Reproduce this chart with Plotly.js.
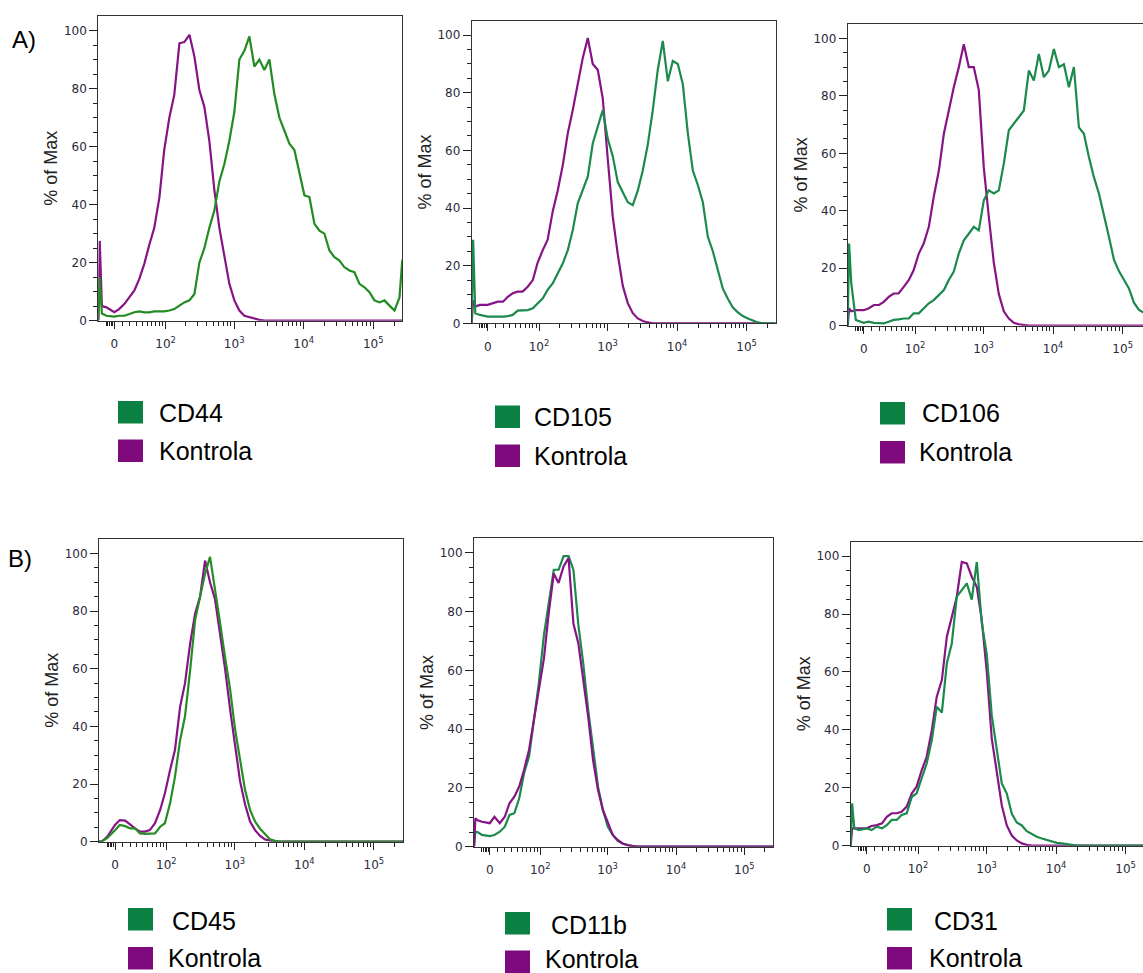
<!DOCTYPE html>
<html>
<head>
<meta charset="utf-8">
<script src="https://cdn.plot.ly/plotly-3.0.1.min.js"></script>
<style>html,body{margin:0;padding:0;background:#fff}#chart{width:1143px;height:973px}</style>
</head>
<body>
<div id="chart"></div>
<script>
// ---------------- DATA ----------------
// fluorescence intensity bins (shared by all histograms)
const BINS = [-21, -19, -16, -10, 0, 6, 13, 20, 27, 35, 44, 54, 66, 80, 95, 114, 135, 161, 190, 226, 267, 315, 372, 439, 519, 612, 723, 853, 1007, 1188, 1402, 1655, 1953, 2306, 2721, 3212, 3791, 4475, 5281, 6233, 7356, 8683, 10248, 12095, 14275, 16850, 19887, 23470, 27700, 32690, 38580, 45530, 53740, 63420, 74860, 88350, 104270, 123070, 145250, 171440, 202360, 238820, 262144];

const MARKERS = ["CD44", "CD105", "CD106", "CD45", "CD11b", "CD31"];
const CONTROL_NAME = "Kontrola";
const PANEL_LETTERS = ["A)", "B)"];
const Y_TITLE = "% of Max";
const X_TICK_VALUES = [0, 100, 1000, 10000, 100000];
const X_TICK_TEXT = ["0", "10<sup>2</sup>", "10<sup>3</sup>", "10<sup>4</sup>", "10<sup>5</sup>"];
const X_MINOR_VALUES = [-10, -8, -6, -4, -2, 10, 20, 30, 40, 50, 60, 70, 80, 90, 200, 300, 400, 500, 600, 700, 800, 900, 2000, 3000, 4000, 5000, 6000, 7000, 8000, 9000, 20000, 30000, 40000, 50000, 60000, 70000, 80000, 90000, 200000];
const Y_TICK_VALUES = [0, 20, 40, 60, 80, 100];
const Y_MINOR_VALUES = [5, 10, 15, 25, 30, 35, 45, 50, 55, 65, 70, 75, 85, 90, 95];

// % of Max, panel A
const CD44_MARKER = [0, 15, 2.5, 1.7, 1.4, 1.7, 1.7, 2.3, 2.9, 3.2, 2.9, 2.9, 3.2, 3.2, 3.2, 3.5, 4, 5.2, 6.3, 7, 9.2, 20, 25, 32, 38, 48, 54, 62, 72, 90, 93, 98, 87.6, 90, 86.4, 90, 78, 70, 65.7, 61, 58.8, 50.7, 43.2, 42.6, 33.4, 31, 30, 24.2, 21.9, 20.7, 18.4, 17.3, 16.7, 12.7, 11.5, 9.8, 7, 6.3, 7, 5.2, 3.5, 8, 21];
const CD44_CONTROL = [0, 27.5, 5, 4.6, 2.9, 4, 5.8, 8, 10.4, 14.4, 19.6, 26, 32, 42.6, 58.8, 70, 77.8, 95.6, 96, 98.5, 91, 79.5, 73.7, 62, 45, 32, 22, 12.7, 7, 3.5, 1.7, 1.2, 0.8, 0.3, 0, 0, 0, 0, 0, 0, 0, 0, 0, 0, 0, 0, 0, 0, 0, 0, 0, 0, 0, 0, 0, 0, 0, 0, 0, 0, 0, 0, 0];

const CD105_MARKER = [0, 29, 3.5, 2.9, 2.3, 2.3, 2.1, 2.3, 2.5, 2.9, 4.4, 4.6, 4.6, 5.2, 6.9, 8.7, 11.6, 13.9, 17.3, 20.8, 25.4, 32.4, 41.6, 46.2, 50.9, 62.4, 68.2, 74, 64, 58, 49, 45.5, 42, 41, 46, 53, 62, 74, 88, 98, 84, 91, 90, 83, 66, 53, 48, 42, 30, 25, 18, 12, 8.5, 5.5, 3.8, 2.5, 1.7, 0.9, 0.3, 0, 0, 0, 0];
const CD105_CONTROL = [0, 8, 5.8, 6.4, 6.4, 6.9, 7.5, 7.5, 9.2, 10.4, 11, 11, 12.7, 15, 21, 25.4, 29, 39, 46, 55, 66, 74, 83, 92, 99, 90, 88, 78, 57, 37, 24, 13, 7, 3.5, 1.7, 0.8, 0.3, 0, 0, 0, 0, 0, 0, 0, 0, 0, 0, 0, 0, 0, 0, 0, 0, 0, 0, 0, 0, 0, 0, 0, 0, 0, 0];

const CD106_MARKER = [0, 28.6, 14.7, 2, 1, 1.4, 1, 0.8, 0.8, 1.4, 2, 2.2, 2.5, 2.5, 4.3, 4.3, 6, 7.8, 8.9, 10.6, 12.4, 15.9, 18.8, 25.1, 29.7, 32, 34.4, 33.2, 43.6, 47.1, 46, 47.1, 56.4, 68, 70.3, 72.6, 74.9, 88.8, 85.3, 94.6, 86.5, 88.8, 96.3, 90, 91, 83, 90, 69, 66.8, 58.7, 51.7, 46, 39, 31, 23, 19, 16, 13, 8, 5.5, 4.5, 3, 2];
const CD106_CONTROL = [0, 6, 5, 5.4, 5.4, 6, 7.2, 7.2, 8.3, 10, 11.2, 11.2, 13.5, 15.9, 19.3, 25.1, 28.6, 34.4, 44.8, 54, 66.8, 74.9, 83, 89.9, 98, 90, 90, 82, 55, 38, 22, 11, 5, 2.5, 1, 0.5, 0.2, 0, 0, 0, 0, 0, 0, 0, 0, 0, 0, 0, 0, 0, 0, 0, 0, 0, 0, 0, 0, 0, 0, 0, 0, 0, 0];

// % of Max, panel B
const CD45_MARKER = [0, 0, 0.3, 1.2, 4, 5.8, 5.4, 4.6, 4.6, 2.9, 2.7, 2.7, 2.9, 5.2, 6.4, 13.3, 22.5, 35.3, 43.4, 59.5, 76.9, 85, 93, 98.8, 88, 76, 64, 53, 39, 28, 18, 11, 7, 4.5, 2.5, 0.8, 0.3, 0, 0, 0, 0, 0, 0, 0, 0, 0, 0, 0, 0, 0, 0, 0, 0, 0, 0, 0, 0, 0, 0, 0, 0, 0, 0];
const CD45_CONTROL = [0, 0, 0.3, 1.7, 5.8, 7.5, 7.3, 5.8, 4.6, 3.5, 3.5, 4, 6.4, 11, 16.8, 24.9, 31.8, 46.8, 54.9, 68.8, 79.2, 85, 97.5, 90, 84, 72, 60, 46, 33, 21, 13, 7, 4, 2, 0.8, 0.3, 0, 0, 0, 0, 0, 0, 0, 0, 0, 0, 0, 0, 0, 0, 0, 0, 0, 0, 0, 0, 0, 0, 0, 0, 0, 0, 0];

const CD11B_MARKER = [0, 5.1, 5, 4, 3.6, 4, 5.1, 6.8, 10.8, 11.4, 16.5, 25, 30.7, 43.2, 55.7, 72, 83.5, 94.3, 94.3, 98.9, 98.9, 94.3, 75.6, 62.5, 46.6, 33, 20.5, 12.5, 6.8, 4, 2, 1.1, 0.6, 0.2, 0, 0, 0, 0, 0, 0, 0, 0, 0, 0, 0, 0, 0, 0, 0, 0, 0, 0, 0, 0, 0, 0, 0, 0, 0, 0, 0, 0, 0];
const CD11B_CONTROL = [0, 9.7, 9, 8.5, 8, 10.2, 8, 10.2, 14.8, 17, 20.5, 26.1, 33, 44, 54.5, 64, 79.5, 93, 89.8, 95.5, 98.3, 76, 69.3, 56.8, 44.3, 29.5, 19.3, 12.5, 8, 4, 2.3, 1.1, 0.5, 0.2, 0, 0, 0, 0, 0, 0, 0, 0, 0, 0, 0, 0, 0, 0, 0, 0, 0, 0, 0, 0, 0, 0, 0, 0, 0, 0, 0, 0, 0];

const CD31_MARKER = [0, 14.6, 6, 5.4, 6, 5.4, 6.6, 6, 7.1, 8.9, 8.9, 10.6, 11.2, 16.9, 18.1, 23.8, 28.4, 36.5, 48, 46, 63, 69.8, 86, 88.3, 90.6, 85, 98, 77, 66, 45, 33, 21.5, 18, 11, 8, 7, 5, 4, 3.1, 2.5, 2, 1.4, 1, 0.8, 0.5, 0.2, 0, 0, 0, 0, 0, 0, 0, 0, 0, 0, 0, 0, 0, 0, 0, 0, 0];
const CD31_CONTROL = [0, 6, 6, 6, 6, 6.8, 7.1, 7.7, 10, 11.2, 11.2, 11.7, 13.5, 18.1, 20.4, 26.1, 30.7, 39.9, 51.4, 57.2, 72.2, 79, 86, 98, 97.5, 92.9, 89.4, 78, 60, 37, 25, 14, 7, 3.5, 1.8, 0.8, 0.3, 0, 0, 0, 0, 0, 0, 0, 0, 0, 0, 0, 0, 0, 0, 0, 0, 0, 0, 0, 0, 0, 0, 0, 0, 0, 0];

const MARKER_SERIES = [CD44_MARKER, CD105_MARKER, CD106_MARKER, CD45_MARKER, CD11B_MARKER, CD31_MARKER];
const CONTROL_SERIES = [CD44_CONTROL, CD105_CONTROL, CD106_CONTROL, CD45_CONTROL, CD11B_CONTROL, CD31_CONTROL];
const X_MIN = -21;
const X_MAX = [262144, 262144, 196000, 262144, 262144, 177700];

// ---------------- STYLE / LAYOUT ----------------
const W = 1143, H = 973;
// biexponential-like display transform (arcsinh)
const C = 37.8;
function T(v) { return Math.asinh(v / C) / Math.LN10; }

const PURPLE = "#861486";
const GREENS = ["#228B22", "#1b8a4c", "#1b8a4c", "#268c26", "#1b8a4c", "#1b8a4c"];
const SQ_GREEN = "#0a8042";
const SQ_PURPLE = "#7e0a7e";

const PANELS = [
  {x0: 98.3, x1: 402.3, y0: 16, y1: 320.7},
  {x0: 471.7, x1: 775.7, y0: 20.7, y1: 323.3},
  {x0: 847.7, x1: 1143, y0: 24, y1: 325.7},
  {x0: 99, x1: 403, y0: 539, y1: 841.7},
  {x0: 474, x1: 773, y0: 538.3, y1: 846.7},
  {x0: 850.7, x1: 1143, y0: 541.7, y1: 845.7}
];
const LEGENDS = [
  {sx: 118, sy1: 401, sy2: 439.5, tx1: 157, tx2: 157, ty1: 413, ty2: 451},
  {sx: 495, sy1: 405.5, sy2: 444.5, tx1: 532, tx2: 532, ty1: 417, ty2: 456},
  {sx: 880, sy1: 402, sy2: 441, tx1: 920, tx2: 917, ty1: 413, ty2: 452},
  {sx: 128, sy1: 908, sy2: 947, tx1: 170, tx2: 166, ty1: 921, ty2: 958},
  {sx: 505, sy1: 912, sy2: 950.5, tx1: 549, tx2: 543, ty1: 925, ty2: 959},
  {sx: 887, sy1: 908, sy2: 947, tx1: 932, tx2: 927, ty1: 921, ty2: 958}
];

const px = x => x / W;
const py = y => 1 - y / H;

const traces = [];
const layout = {
  width: W, height: H,
  margin: {l: 0, r: 0, t: 0, b: 0, pad: 0},
  paper_bgcolor: "#fff", plot_bgcolor: "#fff",
  showlegend: false,
  font: {family: "DejaVu Sans, Verdana, sans-serif", color: "#222"},
  shapes: [], annotations: []
};

const xs = BINS.map(T);
PANELS.forEach((p, i) => {
  const sfx = i === 0 ? "" : String(i + 1);
  const xa = "x" + sfx, ya = "y" + sfx;
  const ctrl = {x: xs, y: CONTROL_SERIES[i], type: "scatter", mode: "lines", name: CONTROL_NAME,
    line: {color: PURPLE, width: 2.2}, xaxis: xa, yaxis: ya, hoverinfo: "skip"};
  const mark = {x: xs, y: MARKER_SERIES[i], type: "scatter", mode: "lines", name: MARKERS[i],
    line: {color: GREENS[i], width: 2.2}, xaxis: xa, yaxis: ya, hoverinfo: "skip"};
  if (i === 4) { traces.push(mark, ctrl); } else { traces.push(ctrl, mark); }

  layout["xaxis" + sfx] = {
    domain: [px(p.x0), px(p.x1)], anchor: ya,
    range: [T(X_MIN), T(X_MAX[i])], autorange: false,
    tickmode: "array", tickvals: X_TICK_VALUES.map(T), ticktext: X_TICK_TEXT,
    ticks: "outside", ticklen: 7, tickwidth: 1, tickcolor: "#222",
    tickfont: {family: "DejaVu Sans, Verdana, sans-serif", size: 12, color: "#2a2a3a"},
    ticklabelstandoff: 5,
    minor: {tickmode: "array", tickvals: X_MINOR_VALUES.map(T), ticks: "outside", ticklen: 4, tickwidth: 1, tickcolor: "#222", showgrid: false},
    showline: true, linecolor: "#333", linewidth: 1, mirror: true,
    showgrid: false, zeroline: false, automargin: false, fixedrange: true
  };
  layout["yaxis" + sfx] = {
    domain: [py(p.y1), py(p.y0)], anchor: xa,
    range: [0, 105], autorange: false,
    tickmode: "array", tickvals: Y_TICK_VALUES,
    ticks: "outside", ticklen: 8, tickwidth: 1, tickcolor: "#222",
    tickfont: {family: "DejaVu Sans, Verdana, sans-serif", size: 12, color: "#2a2a3a"},
    minor: {tickmode: "array", tickvals: Y_MINOR_VALUES, ticks: "outside", ticklen: 4, tickwidth: 1, tickcolor: "#222", showgrid: false},
    showline: true, linecolor: "#333", linewidth: 1, mirror: true,
    showgrid: false, zeroline: false, automargin: false, fixedrange: true,
    title: {text: Y_TITLE, font: {family: "Arial, Liberation Sans, sans-serif", size: 18, color: "#222"}, standoff: 1}
  };

  // legend squares and labels
  const L = LEGENDS[i];
  layout.shapes.push(
    {type: "rect", xref: "paper", yref: "paper", x0: px(L.sx), x1: px(L.sx + 25), y0: py(L.sy1), y1: py(L.sy1 + 22.5), fillcolor: SQ_GREEN, line: {width: 0}},
    {type: "rect", xref: "paper", yref: "paper", x0: px(L.sx), x1: px(L.sx + 25), y0: py(L.sy2), y1: py(L.sy2 + 22.5), fillcolor: SQ_PURPLE, line: {width: 0}}
  );
  const lf = {family: "Arial, Liberation Sans, sans-serif", size: 25, color: "#000"};
  layout.annotations.push(
    {xref: "paper", yref: "paper", x: px(L.tx1), y: py(L.ty1), xanchor: "left", yanchor: "middle", text: MARKERS[i], showarrow: false, font: lf},
    {xref: "paper", yref: "paper", x: px(L.tx2), y: py(L.ty2), xanchor: "left", yanchor: "middle", text: CONTROL_NAME, showarrow: false, font: lf}
  );
});

const letterFont = {family: "Arial, Liberation Sans, sans-serif", size: 24, color: "#000"};
layout.annotations.push(
  {xref: "paper", yref: "paper", x: px(10), y: py(39), xanchor: "left", yanchor: "middle", text: PANEL_LETTERS[0], showarrow: false, font: letterFont},
  {xref: "paper", yref: "paper", x: px(6), y: py(558), xanchor: "left", yanchor: "middle", text: PANEL_LETTERS[1], showarrow: false, font: letterFont}
);

Plotly.newPlot("chart", traces, layout, {staticPlot: true, displayModeBar: false});
</script>
</body>
</html>
